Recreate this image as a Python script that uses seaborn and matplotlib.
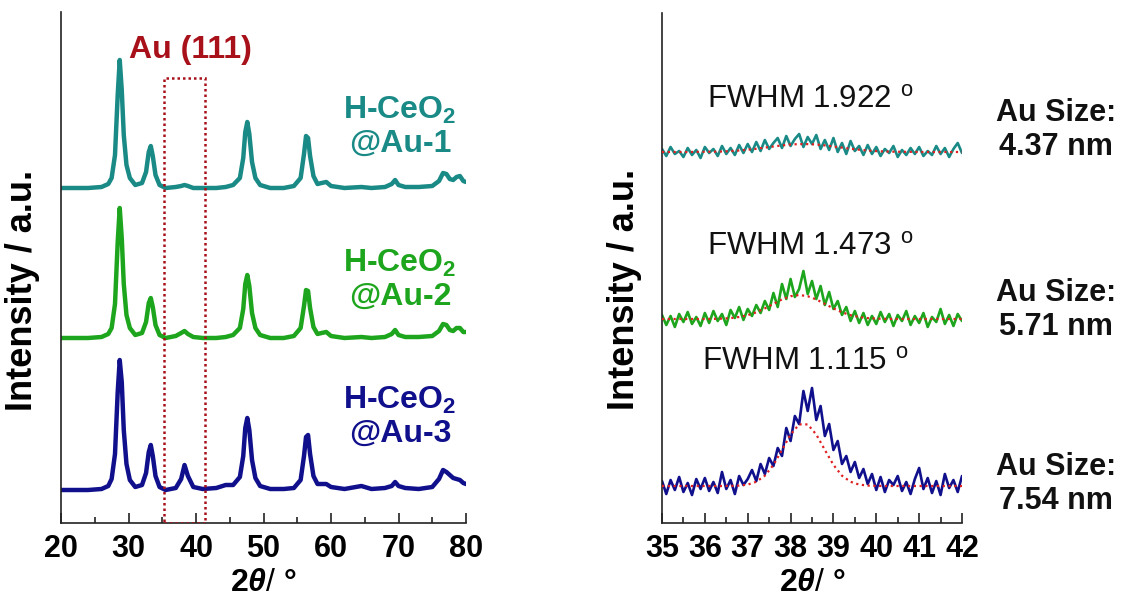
import numpy as np
import pandas as pd
import matplotlib
matplotlib.use("Agg")
import matplotlib.pyplot as plt
import seaborn as sns
from matplotlib.patches import Rectangle

# ---- data ----
# left panel: wide-range XRD, heights above each trace's own baseline
wide_2theta = [20, 22, 24, 26, 27, 27.5, 28, 28.4, 28.7, 29.0, 29.3, 29.7, 30.2, 31, 32,
               32.6, 33.0, 33.3, 33.6, 34.0, 34.6, 35.5, 37, 37.8, 38.3, 38.8, 39.6, 41, 43, 44.4,
               45.5, 46.5, 47.0, 47.3, 47.6, 47.9, 48.3, 48.8, 49.5, 51, 53, 54.5, 55.5, 56.0, 56.3,
               56.6, 56.9, 57.4, 58, 58.6, 59.3, 60, 62, 64.5, 66, 68, 69, 69.5, 70, 71,
               73, 75, 76, 76.6, 77.1, 77.6, 78.1, 78.6, 79.1, 79.6, 80]
wide_au1 = [2, 2, 2, 3, 6, 12, 35, 95, 130, 100, 55, 25, 12, 5, 7,
            18, 38, 44, 34, 15, 5, 2, 3, 4, 5, 4, 2, 2, 2, 3,
            5, 12, 32, 58, 68, 56, 28, 12, 5, 2, 2, 4, 12, 36, 54,
            52, 34, 14, 6, 7, 8, 4, 2, 3, 2, 3, 6, 10, 5, 3,
            3, 4, 9, 17, 16, 11, 10, 13, 14, 9, 8]
wide_au2 = [2, 2, 2, 3, 6, 12, 36, 98, 132, 102, 56, 25, 12, 5, 7,
            18, 37, 42, 33, 15, 5, 2, 4, 7, 9, 6, 3, 2, 2, 3,
            5, 12, 31, 56, 65, 54, 27, 12, 5, 2, 2, 4, 12, 34, 50,
            49, 32, 13, 6, 7, 8, 4, 2, 3, 2, 3, 6, 10, 5, 3,
            3, 4, 9, 16, 15, 10, 9, 12, 12, 8, 8]
wide_au3 = [2, 2, 2, 3, 6, 13, 38, 100, 132, 110, 62, 28, 12, 5, 7,
            19, 40, 47, 36, 16, 5, 2, 4, 13, 27, 16, 5, 3, 4, 7,
            7, 15, 36, 64, 74, 62, 32, 14, 6, 3, 3, 4, 12, 36, 55,
            57, 38, 16, 8, 8, 8, 5, 3, 6, 3, 4, 6, 10, 6, 4,
            3, 5, 13, 22, 20, 17, 14, 13, 12, 9, 8]

# right panel: Au (111) region, raw counts (0.1 deg steps) and fitted curve (0.2 deg steps)
zoom_2theta = np.linspace(35, 42, 71)
zoom_au1 = [3, -4, 5, -2, 1, -5, 4, -3, 2, -6,
            5, -1, 3, -4, 6, -2, 4, -3, 7, -1,
            8, 0, 10, 1, 12, 3, 9, 14, 4, 16,
            6, 13, 18, 5, 15, 8, 17, 3, 12, 2,
            14, 0, 9, -2, 11, 1, 6, -3, 7, -2,
            5, -4, 3, -1, 6, -5, 2, -3, 4, -2,
            5, -4, 1, -3, 6, -2, 4, -5, 3, 9, -1]
zoom_au2 = [4, -6, 3, -8, 5, -3, 7, -5, 2, -7,
            6, -4, 8, -2, 5, -6, 9, 1, 12, -1,
            10, 3, 14, 6, 18, 9, 26, 12, 35, 20,
            40, 22, 30, 48, 25, 38, 20, 33, 14, 27,
            10, 18, 4, 12, -2, 8, -4, 6, -6, 3,
            -5, 7, -3, 5, -7, 4, -2, 8, -6, 3,
            -4, 6, -8, 2, -3, 10, -5, 4, -7, 5, -2]
zoom_au3 = [5, -8, 6, -4, 9, -6, 3, -9, 7, -3,
            8, -5, 4, -7, 14, -3, 6, -8, 10, 1,
            7, 16, 5, 22, 12, 28, 20, 38, 30, 58,
            45, 70, 62, 95, 75, 98, 66, 80, 50, 62,
            36, 45, 22, 30, 14, 24, 8, 17, 2, 12,
            -4, 9, -6, 6, 1, 10, -5, 4, -8, 7,
            18, -3, 8, -7, 5, -9, 12, -2, 6, -6, 10]

fit_2theta = np.linspace(35, 42, 36)
fit_au1 = [0, 0, 0, 0, 0.1, 0.2, 0.3, 0.5, 0.9, 1.5, 2.3, 3.2, 4.4, 5.5, 6.6, 7.5, 7.9, 7.9,
           7.5, 6.6, 5.5, 4.4, 3.2, 2.3, 1.5, 0.9, 0.5, 0.3, 0.2, 0.1, 0, 0, 0, 0, 0, 0]
fit_au2 = [0, 0, 0, 0, 0, 0, 0.1, 0.4, 0.9, 2.0, 3.8, 6.7, 10.6, 15.1, 19.6, 22.8, 24, 22.8,
           19.6, 15.1, 10.6, 6.7, 3.8, 2.0, 0.9, 0.4, 0.1, 0, 0, 0, 0, 0, 0, 0, 0, 0]
fit_au3 = [0, 0, 0, 0, 0, 0, 0, 0, 0.1, 0.4, 1.4, 4.2, 10.3, 21.1, 36.1, 51.5, 61.6, 61.6,
           51.5, 36.1, 21.1, 10.3, 4.2, 1.4, 0.4, 0.1, 0, 0, 0, 0, 0, 0, 0, 0, 0, 0]

samples = ["Au-1", "Au-2", "Au-3"]
fwhm = ["1.922", "1.473", "1.115"]
au_size = ["4.37 nm", "5.71 nm", "7.54 nm"]
colors = ["#1a8a86", "#1ea51e", "#10108c"]
box_range = (35.2, 41.4)

# vertical stacking of the traces (a.u.)
wide_offsets = [333, 183, 31]
zoom_offsets = [371, 204, 37]

# ---- style ----
sns.set_style("ticks")
plt.rcParams['font.family'] = ['Liberation Sans', 'DejaVu Sans']
plt.rcParams['mathtext.fontset'] = 'custom'
plt.rcParams['mathtext.rm'] = 'Liberation Sans'
plt.rcParams['mathtext.bf'] = 'Liberation Sans:bold'
plt.rcParams['mathtext.it'] = 'Liberation Sans:italic:bold'

W, H = 1144, 612
fig = plt.figure(figsize=(W / 100, H / 100), dpi=100)
ax1 = fig.add_axes([61 / W, 89 / H, 405 / W, 511 / H])
ax2 = fig.add_axes([662 / W, 89 / H, 300 / W, 510 / H])

wide_df = pd.DataFrame({"2theta": wide_2theta})
for name, vals, off in zip(samples, [wide_au1, wide_au2, wide_au3], wide_offsets):
    wide_df[name] = np.array(vals) + off

for name, c in zip(samples, colors):
    sns.lineplot(data=wide_df, x="2theta", y=name, ax=ax1, color=c, lw=3.2,
                 sort=False, estimator=None)

for raw, fit, off, c in zip([zoom_au1, zoom_au2, zoom_au3], [fit_au1, fit_au2, fit_au3],
                            zoom_offsets, colors):
    sns.lineplot(x=zoom_2theta, y=np.array(raw) + off, ax=ax2, color=c, lw=1.9,
                 sort=False, estimator=None)
    sns.lineplot(x=fit_2theta, y=np.array(fit) + off, ax=ax2, color="#e02020", lw=1.6,
                 ls=(0, (1, 1.6)), sort=False, estimator=None, zorder=4)

# Au (111) window
ax1.add_patch(Rectangle((box_range[0], 0), box_range[1] - box_range[0], 445, fill=False,
                        ec="#a8101a", lw=1.8, ls=(0, (1, 1.2)), zorder=5))

ax1.set_xlim(20, 80)
ax1.set_ylim(0, 511)
ax1.set_xticks(range(20, 81, 10))
ax1.set_xticks(range(25, 80, 10), minor=True)
ax2.set_xlim(35, 42)
ax2.set_ylim(0, 510)
ax2.set_xticks(range(35, 43))
ax2.set_xticks(np.arange(35.5, 42, 1), minor=True)

for ax in (ax1, ax2):
    sns.despine(ax=ax)
    ax.set_yticks([])
    for s in ("left", "bottom"):
        ax.spines[s].set_linewidth(1.2)
        ax.spines[s].set_color("#222222")
    ax.tick_params(axis="x", which="major", direction="in", length=7, width=1.2,
                   labelsize=22, pad=8, color="#222222", labelcolor="black")
    ax.tick_params(axis="x", which="minor", direction="in", length=4, width=1.2,
                   color="#222222")
    for lab in ax.get_xticklabels():
        lab.set_fontweight("bold")
    ax.set_xlabel(r"2$\mathit{θ/}$ °", fontsize=23, fontweight="bold", labelpad=3,
                  color="black")
    ax.set_ylabel("Intensity / a.u.", fontsize=26, fontweight="bold", color="black")

ax1.yaxis.set_label_coords(-0.052, 0.456)
ax2.yaxis.set_label_coords(-0.067, 0.457)


def ftext(x, y, s, **kw):
    fig.text(x / W, 1 - y / H, s, ha="center", va="center", **kw)


# left panel labels
ftext(190, 50, "Au (111)", color="#a8101a", fontsize=23, fontweight="bold")
for name, c, y in zip(samples, colors, [110, 263, 400]):
    ftext(400, y, r"H-CeO$_\mathbf{2}$", color=c, fontsize=23, fontweight="bold")
    ftext(400, y + 34, "@" + name, color=c, fontsize=23, fontweight="bold")

# right panel labels
for f, y, x in zip(fwhm, [100, 247, 362], [810, 810, 805]):
    ftext(x, y, "FWHM " + f + r" $^{\mathrm{o}}$", color="#111111", fontsize=22.5)
for s, y in zip(au_size, [113, 293, 467]):
    ftext(1056, y, "Au Size:", color="#111111", fontsize=22, fontweight="bold")
    ftext(1056, y + 34, s, color="#111111", fontsize=22, fontweight="bold")

fig.savefig("out.png", dpi=100, facecolor="white")
